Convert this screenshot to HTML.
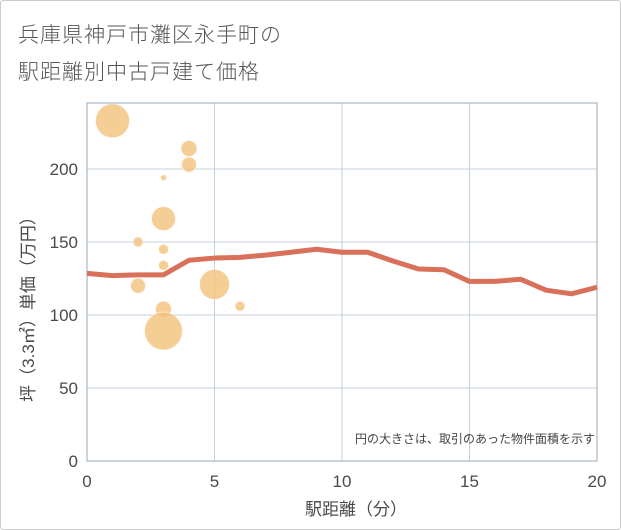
<!DOCTYPE html>
<html><head><meta charset="utf-8">
<style>
body{margin:0;background:#fff;}
#wrap{position:relative;width:619px;height:528px;border:1px solid #ccc;border-radius:3px;background:#fff;font-family:"Liberation Sans","Noto Sans CJK JP",sans-serif;}
.title{position:absolute;left:17px;font-size:21px;color:#555;font-weight:300;letter-spacing:1px;}
</style></head>
<body>
<div id="wrap">
<div class="title" style="top:18px">兵庫県神戸市灘区永手町の</div>
<div class="title" style="top:55px">駅距離別中古戸建て価格</div>
<svg id="chart" width="621" height="530" style="position:absolute;left:-1px;top:-1px"></svg>
</div>
<script>
const xTicks=[0,5,10,15,20];
const yTicks=[0,50,100,150,200];
const lineX=[0,1,2,3,4,5,6,7,8,9,10,11,12,13,14,15,16,17,18,19,20];
const lineY=[128.5,127,127.5,127.5,137.5,139,139.5,141,143,145,143,143,137,131.5,131,123,123,124.5,117,114.5,119];
const bubX=[1,4,4,3,3,2,3,3,2,5,6,3,3];
const bubY=[233,214,203,194,166,150,145,134,120,121,106,104,89];
const bubR=[17,8,7.5,3,12,5,5,5,7.5,15,5,8,19];
const NS='http://www.w3.org/2000/svg';
const svg=document.getElementById('chart');
const L=87,R=597,T=103,B=461;
const sx=v=>L+(v-0)/20*(R-L);
const sy=v=>B-v/250*(B-T)*(250/245.2);
function mk(t,a){const e=document.createElementNS(NS,t);for(const k in a)e.setAttribute(k,a[k]);svg.appendChild(e);return e;}
const bg=mk('rect',{x:L,y:T,width:R-L,height:B-T,fill:'#fff',stroke:'none'});


xTicks.forEach(t=>{
 const g=mk('line',{x1:sx(t),x2:sx(t),y1:T,y2:B,stroke:'#c5d0dc','stroke-width':1});
 
 
 const lb=mk('text',{x:sx(t),y:487,'text-anchor':'middle','font-size':17,fill:'#4a4a4a','font-family':'Liberation Sans, sans-serif'});
 lb.textContent=t;
 
 
});
yTicks.forEach(t=>{
 const g=mk('line',{x1:L,x2:R,y1:sy(t),y2:sy(t),stroke:'#c5d0dc','stroke-width':1});
 
 
 const lb=mk('text',{x:78,y:sy(t)+6,'text-anchor':'end','font-size':17,fill:'#4a4a4a','font-family':'Liberation Sans, sans-serif'});
 lb.textContent=t;
 
 
});
const fr=mk('rect',{x:L,y:T,width:R-L,height:B-T,fill:'none',stroke:'#9aa8b8','stroke-width':1});


bubX.forEach((x,i)=>{
 const c=mk('circle',{cx:sx(x),cy:sy(bubY[i]),r:bubR[i],fill:'#f3c27a','fill-opacity':0.8,stroke:'#fff','stroke-opacity':0.5,'stroke-width':1});
 
 
});
const pl=mk('polyline',{points:lineX.map((x,i)=>sx(x)+','+sy(lineY[i])).join(' '),fill:'none',stroke:'#d9705a','stroke-width':5,'stroke-linejoin':'round'});


const note=mk('text',{x:595,y:443,'text-anchor':'end','font-size':12,fill:'#444','font-family':'Liberation Sans, Noto Sans CJK JP, sans-serif'});
note.textContent='円の大きさは、取引のあった物件面積を示す';


const xt=mk('text',{x:356,y:515,'text-anchor':'middle','font-size':17,fill:'#4a4a4a','font-family':'Liberation Sans, Noto Sans CJK JP, sans-serif'});
xt.textContent='駅距離（分）';


const yt=mk('text',{x:0,y:0,'text-anchor':'middle','font-size':17,fill:'#4a4a4a','font-family':'Liberation Sans, Noto Sans CJK JP, sans-serif',transform:'translate(34,305) rotate(-90)'});
yt.textContent='坪（3.3㎡）単価（万円）';


</script>
</body></html>
